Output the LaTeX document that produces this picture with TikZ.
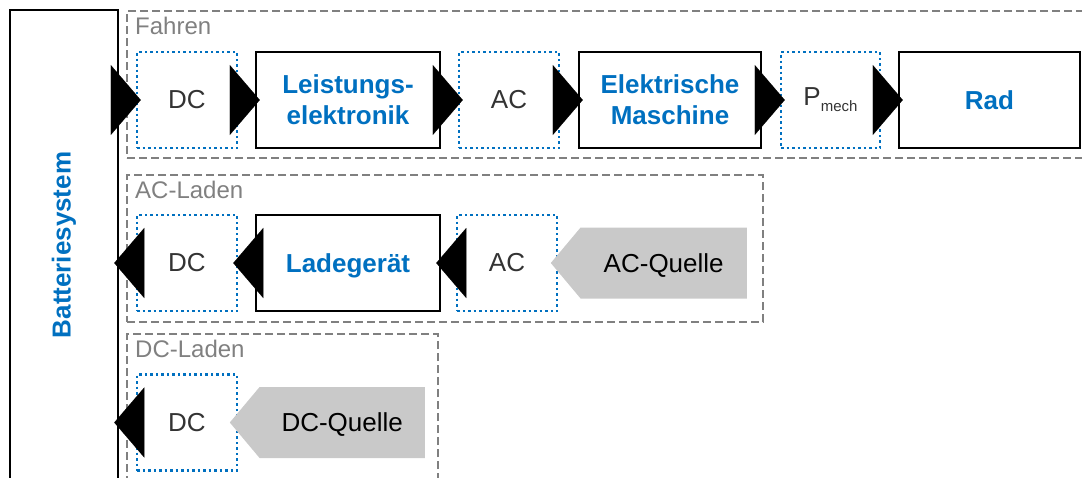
\documentclass[tikz,border=0pt]{standalone}
\usepackage{fontspec}
\setmainfont{Liberation Sans}
\usepackage{graphicx}
\usepackage{tikz}
\usetikzlibrary{arrows.meta,positioning,shapes.symbols}
\definecolor{tublue}{HTML}{0070C0}
\definecolor{grpgray}{HTML}{808080}
\definecolor{srcgray}{HTML}{C9C9C9}
\definecolor{qtytext}{HTML}{333333}

\begin{document}
\begin{tikzpicture}[x=1pt, y=-1pt,
    qty/.style={rectangle, draw=tublue, line width=2.5pt, dash pattern=on 2.5pt off 3pt, minimum width=#1, minimum height=96pt, font=\fontsize{26}{31}\selectfont, text=qtytext},
    qty/.default=100pt,
    comp/.style={rectangle, draw, line width=2.5pt, minimum width=#1, minimum height=96pt, font=\fontsize{26}{31}\selectfont\bfseries, text=tublue, align=center},
    comp/.default=184pt,
    src/.style={signal, signal to=west, signal pointer angle=100, fill=srcgray, minimum width=#1, minimum height=71pt, inner sep=0pt, text depth=0pt, font=\fontsize{26}{31}\selectfont, text=black, anchor=east},
    grp/.style={draw=grpgray, line width=2pt, dash pattern=on 8pt off 4pt, anchor=north west, minimum width=#1},
    lbl/.style={font=\fontsize{24}{28}\selectfont, text=grpgray, anchor=north west, inner sep=0pt},
    arr/.style={-{Triangle[length=30pt, width=70pt]}, line width=0.1pt, shorten <=-5pt, shorten >=-5pt}
]
\useasboundingbox (0,0) rectangle (1082,477);

% Gruppen
\node[grp=969pt, minimum height=147pt] (fahren) at (126,10) {};
\node[grp=636pt, minimum height=147pt] (acladen) at (126,174) {};
\node[grp=311pt, minimum height=160pt] (dcladen) at (126,333) {};
\node[lbl] (lfahren) at (135,17) {Fahren};
\node[lbl] (lacladen) at (135,181) {AC-Laden};
\node[lbl] (ldcladen) at (135,340) {DC-Laden};

% Batterie
\node[comp=108pt, minimum height=470pt] (bat) at (64,245) {\rotatebox{90}{Batteriesystem}};

% Fahren
\node[qty] (dc1) at (187,100) {DC};
\node[comp] (le) at (348,100) {Leistungs-\\elektronik};
\node[qty] (ac1) at (509,100) {AC};
\node[comp=182pt] (em) at (670,100) {Elektrische\\Maschine};
\node[qty=99pt] (pm) at (830.5,100) {P{\fontsize{15}{18}\selectfont\raisebox{-6pt}{mech}}};
\node[comp=181pt, text depth=0pt] (rad) at (989.5,100) {Rad};

% AC-Laden
\node[qty] (dc2) at (187,263) {DC};
\node[comp, text depth=0pt] (lg) at (348,263) {Ladeger\"at};
\node[qty] (ac2) at (507,263) {AC};

% DC-Laden
\node[qty] (dc3) at (187,422.5) {DC};

% Pfeile
\draw[arr] (bat.east |- dc1.west) -- (dc1.west);
\draw[arr] (dc1.east) -- (le.west);
\draw[arr] (le.east) -- (ac1.west);
\draw[arr] (ac1.east) -- (em.west);
\draw[arr] (em.east) -- (pm.west);
\draw[arr] (pm.east) -- (rad.west);
\draw[arr] (ac2.west) -- (lg.east);
\draw[arr] (lg.west) -- (dc2.east);
\draw[arr] (dc2.west) -- (bat.east |- dc2.west);
\draw[arr] (dc3.west) -- (bat.east |- dc3.west);

% Quellen
\node[src=196pt] (acq) at (747,263) {AC-Quelle};
\node[src=195pt] (dcq) at (425,422.5) {DC-Quelle};

\end{tikzpicture}
\end{document}
